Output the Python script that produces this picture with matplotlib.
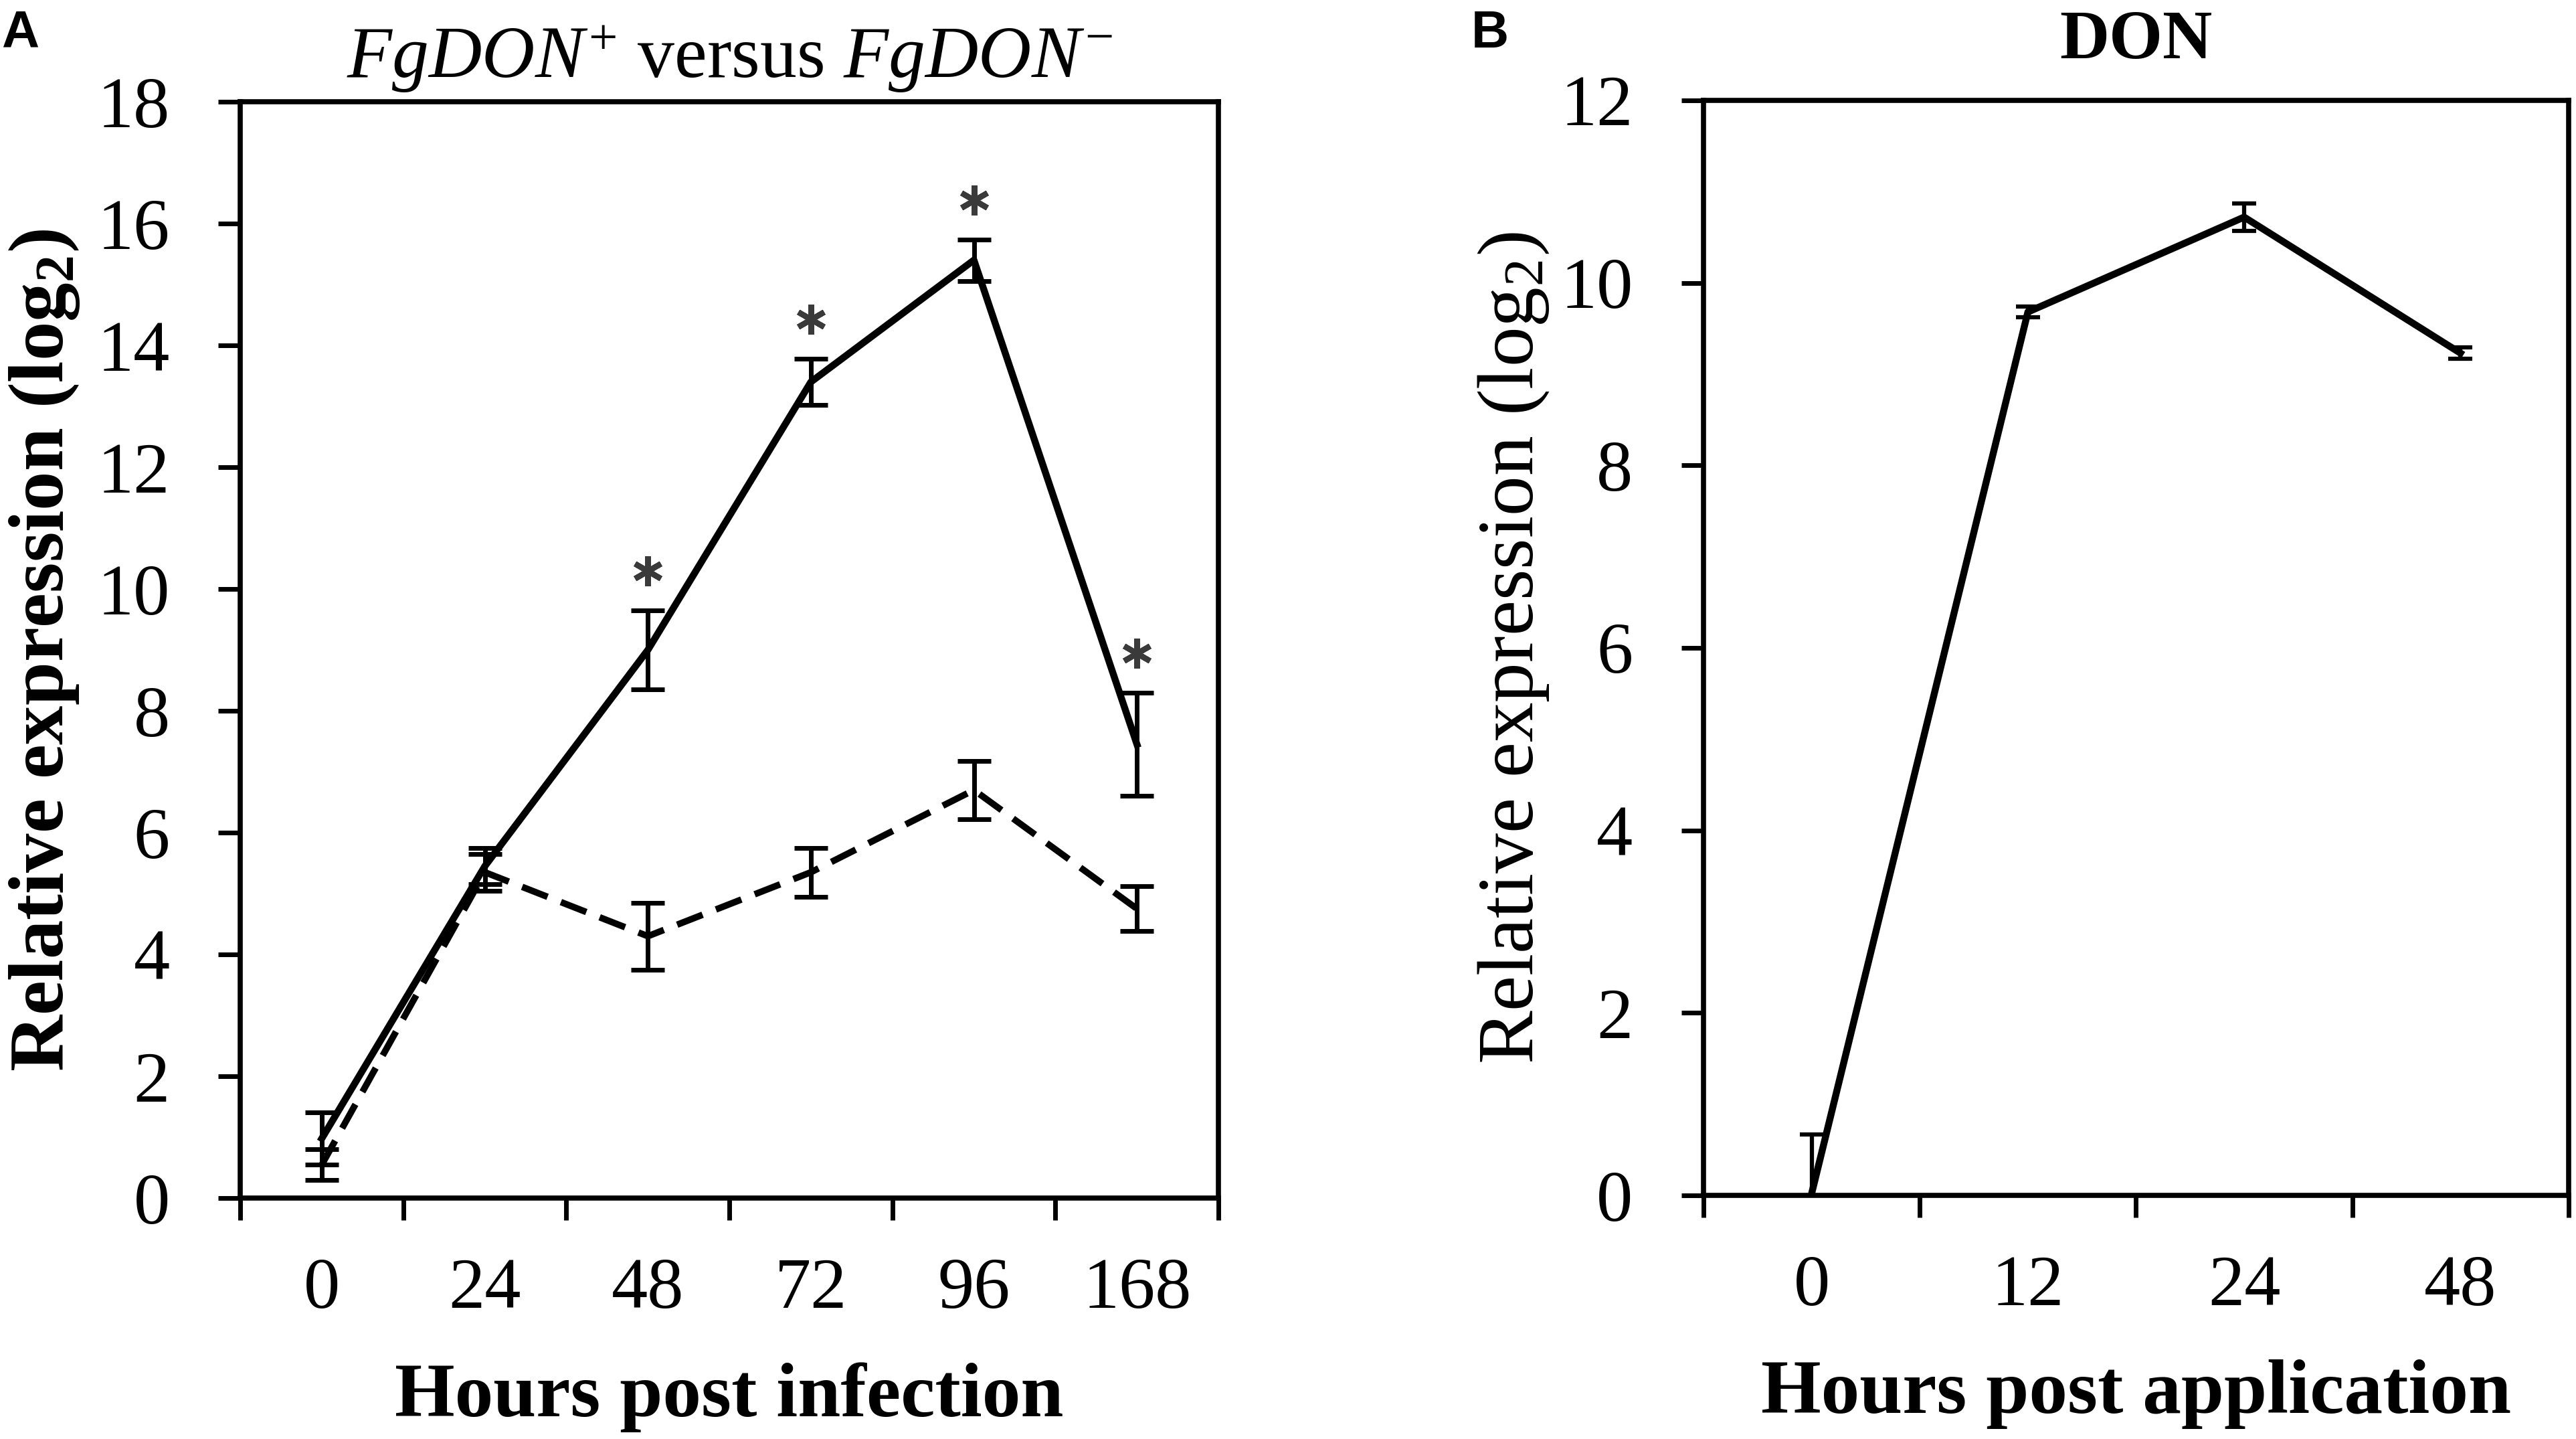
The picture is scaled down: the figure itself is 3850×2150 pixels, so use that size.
import numpy as np
import matplotlib
matplotlib.use("Agg")
import matplotlib.pyplot as plt

plt.rcParams['font.family'] = ['Liberation Serif', 'DejaVu Serif']
plt.rcParams['mathtext.fontset'] = 'custom'
plt.rcParams['mathtext.rm'] = 'Liberation Serif'
plt.rcParams['mathtext.it'] = 'Liberation Serif:italic'
plt.rcParams['mathtext.bf'] = 'Liberation Serif:bold'

# panel A: FgDON+ vs FgDON- infection time course
hours_a = ['0', '24', '48', '72', '96', '168']
don_plus = [0.98, 5.45, 9.0, 13.4, 15.4, 7.45]
don_plus_err = [0.43, 0.3, 0.65, 0.38, 0.34, 0.85]
don_minus = [0.55, 5.35, 4.3, 5.35, 6.7, 4.75]
don_minus_err = [0.25, 0.3, 0.55, 0.4, 0.48, 0.37]
signif = [False, False, True, True, True, True]

# panel B: DON application
hours_b = ['0', '12', '24', '48']
don_app = [0.02, 9.68, 10.72, 9.23]
don_app_err = [0.65, 0.06, 0.15, 0.06]

fig = plt.figure(figsize=(38.5, 21.5), dpi=100)
axA = fig.add_axes([0.0933, 0.1674, 0.3797, 0.7619])
axB = fig.add_axes([0.6613, 0.1693, 0.3358, 0.7610])

# ---- panel A ----
xa = np.arange(len(hours_a))
axA.errorbar(xa, don_plus, yerr=don_plus_err, color='black', lw=7.5,
             elinewidth=5, capsize=18, capthick=5)
axA.errorbar(xa, don_minus, yerr=don_minus_err, color='black', lw=7,
             ls=(0, (4.2, 2.2)), elinewidth=5, capsize=18, capthick=5)
for i in range(len(hours_a)):
    if signif[i]:
        axA.plot(xa[i], don_plus[i] + don_plus_err[i] + 0.65, marker=(6, 2, 0),
                 ms=32, mew=6, color='#3a3a3a')

axA.set_xlim(-0.5, len(hours_a) - 0.5)
axA.set_ylim(0, 18)
axA.set_yticks(np.arange(0, 19, 2))
axA.set_xticks(np.arange(len(hours_a) + 1) - 0.5, labels=[''] * (len(hours_a) + 1))
axA.set_xticks(xa, labels=hours_a, minor=True)
axA.tick_params(axis='x', which='major', direction='out', length=24, width=5)
axA.tick_params(axis='x', which='minor', length=0, pad=64, labelsize=78)
axA.tick_params(axis='y', direction='out', length=24, width=5, pad=52, labelsize=78)
for s in axA.spines.values():
    s.set_linewidth(5.5)
axA.set_xlabel('Hours post infection', fontsize=83, fontweight='bold', labelpad=42)
axA.set_ylabel(r'Relative expression (log$_\mathbf{2}$)', fontsize=84,
               fontweight='bold')
axA.yaxis.set_label_coords(-0.162, 0.5)
axA.set_title(r'$\mathit{FgDON}^{+}$ versus $\mathit{FgDON}^{-}$', fontsize=79, pad=26)

# ---- panel B ----
xb = np.arange(len(hours_b))
axB.errorbar(xb, don_app, yerr=don_app_err, color='black', lw=7.5,
             elinewidth=4.5, capsize=13, capthick=4.5)
axB.set_xlim(-0.5, len(hours_b) - 0.5)
axB.set_ylim(0, 12)
axB.set_yticks(np.arange(0, 13, 2))
axB.set_xticks(np.arange(len(hours_b) + 1) - 0.5, labels=[''] * (len(hours_b) + 1))
axB.set_xticks(xb, labels=hours_b, minor=True)
axB.tick_params(axis='x', which='major', direction='out', length=24, width=5)
axB.tick_params(axis='x', which='minor', length=0, pad=64, labelsize=78)
axB.tick_params(axis='y', direction='out', length=24, width=5, pad=52, labelsize=78)
for s in axB.spines.values():
    s.set_linewidth(5.5)
axB.set_xlabel('Hours post application', fontsize=83, fontweight='bold', labelpad=42)
axB.set_ylabel(r'Relative expression (log$_2$)', fontsize=86)
axB.yaxis.set_label_coords(-0.176, 0.5)
axB.set_title('DON', fontsize=74, fontweight='bold', pad=45)

fig.text(0.0005, 0.9935, 'A', fontsize=56, fontweight='bold', family='Liberation Sans',
         va='top', ha='left')
fig.text(0.571, 0.9935, 'B', fontsize=56, fontweight='bold', family='Liberation Sans',
         va='top', ha='left')

fig.savefig('out.png', dpi=100, facecolor='white')
